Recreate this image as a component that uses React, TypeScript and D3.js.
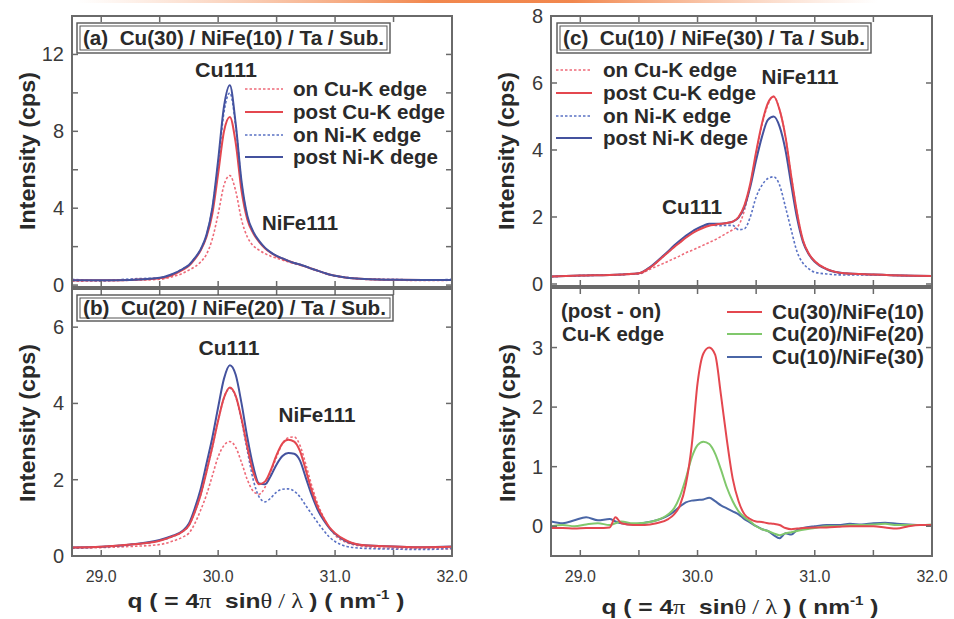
import React from "react";
import * as d3 from "d3";

// ---------- data ----------
const Q = [28.75, 29.0, 29.25, 29.5, 29.6, 29.7,
  29.75, 29.8, 29.85, 29.9, 29.95, 30.0, 30.05, 30.1, 30.15, 30.2, 30.25, 30.3, 30.35, 30.4, 30.45, 30.5, 30.55, 30.6, 30.65, 30.7, 30.75, 30.8, 30.85, 30.9, 30.95, 31.0,
  31.1, 31.25, 31.5, 31.75, 32.0];

// (a) Cu(30)/NiFe(10)
const A_onCu = [0.2, 0.22, 0.25, 0.3, 0.42, 0.62,
  0.78, 0.95, 1.2, 1.6, 2.4, 3.7, 5.2, 5.7, 4.9, 3.4, 2.5, 2.05, 1.82, 1.64, 1.5, 1.4, 1.3, 1.2, 1.12, 1.04, 0.95, 0.84, 0.74, 0.64, 0.55, 0.48,
  0.38, 0.3, 0.26, 0.24, 0.25];
const A_postCu = [0.25, 0.25, 0.27, 0.35, 0.5, 0.8,
  1.0, 1.35, 1.8, 2.5, 3.7, 5.8, 8.0, 8.75, 7.4, 4.9, 3.4, 2.7, 2.25, 1.92, 1.68, 1.5, 1.37, 1.25, 1.15, 1.06, 0.96, 0.85, 0.75, 0.65, 0.55, 0.48,
  0.38, 0.32, 0.28, 0.27, 0.27];
const A_onNi = [0.3, 0.22, 0.32, 0.38, 0.55, 0.85,
  1.05, 1.4, 1.85, 2.6, 4.0, 6.3, 9.0, 10.0, 8.3, 5.3, 3.55, 2.75, 2.28, 1.94, 1.7, 1.52, 1.39, 1.26, 1.15, 1.07, 0.97, 0.85, 0.75, 0.65, 0.55, 0.48,
  0.4, 0.32, 0.3, 0.25, 0.3];
const A_postNi = [0.25, 0.25, 0.27, 0.38, 0.55, 0.85,
  1.05, 1.4, 1.85, 2.6, 4.0, 6.5, 9.3, 10.4, 8.4, 5.4, 3.6, 2.78, 2.3, 1.95, 1.7, 1.52, 1.39, 1.26, 1.15, 1.07, 0.97, 0.85, 0.75, 0.65, 0.55, 0.48,
  0.38, 0.32, 0.28, 0.27, 0.27];

// (b) Cu(20)/NiFe(20)
const B_onCu = [0.2, 0.22, 0.25, 0.3, 0.38, 0.5,
  0.6, 0.85, 1.2, 1.6, 2.1, 2.6, 2.9, 3.0, 2.85, 2.45, 2.0, 1.7, 1.62, 1.8, 2.2, 2.6, 2.95, 3.1, 3.12, 2.9, 2.4, 1.85, 1.38, 1.02, 0.75, 0.55,
  0.35, 0.25, 0.2, 0.2, 0.18];
const B_postCu = [0.22, 0.24, 0.3, 0.4, 0.5, 0.65,
  0.8, 1.15, 1.6, 2.2, 2.85, 3.55, 4.15, 4.42, 4.2, 3.6, 2.85, 2.2, 1.88, 1.95, 2.25, 2.65, 2.95, 3.05, 3.0, 2.75, 2.25, 1.72, 1.3, 1.0, 0.76, 0.6,
  0.4, 0.28, 0.25, 0.23, 0.24];
const B_onNi = [0.22, 0.24, 0.3, 0.4, 0.5, 0.65,
  0.8, 1.15, 1.6, 2.2, 2.85, 3.55, 4.15, 4.4, 4.18, 3.55, 2.75, 2.0, 1.55, 1.42, 1.52, 1.68, 1.75, 1.76, 1.7, 1.55, 1.32, 1.1, 0.88, 0.68, 0.5, 0.38,
  0.25, 0.2, 0.18, 0.17, 0.2];
const B_postNi = [0.22, 0.24, 0.3, 0.42, 0.52, 0.67,
  0.85, 1.25, 1.75, 2.42, 3.1, 3.9, 4.65, 5.0, 4.75, 4.0, 3.1, 2.35, 1.9, 1.88, 2.1, 2.4, 2.62, 2.7, 2.68, 2.5, 2.05, 1.6, 1.22, 0.95, 0.74, 0.58,
  0.38, 0.28, 0.25, 0.23, 0.25];

// (c) Cu(10)/NiFe(30)
const C_onCu = [0.22, 0.25, 0.27, 0.3, 0.45, 0.6,
  0.68, 0.76, 0.84, 0.93, 1.0, 1.08, 1.16, 1.24, 1.32, 1.42, 1.52, 1.62, 1.75, 2.2, 2.95, 3.9, 4.75, 5.35, 5.6, 5.2, 4.4, 3.2, 2.1, 1.3, 0.9, 0.68,
  0.45, 0.32, 0.28, 0.25, 0.24];
const C_postCu = [0.22, 0.25, 0.27, 0.32, 0.5, 0.8,
  0.95, 1.1, 1.24, 1.38, 1.5, 1.6, 1.68, 1.74, 1.77, 1.8, 1.82, 1.86, 2.0, 2.35, 3.0, 3.95, 4.8, 5.4, 5.6, 5.2, 4.4, 3.2, 2.1, 1.3, 0.9, 0.68,
  0.45, 0.32, 0.28, 0.25, 0.24];
const C_onNi = [0.22, 0.25, 0.27, 0.32, 0.5, 0.8,
  0.95, 1.12, 1.28, 1.42, 1.55, 1.65, 1.72, 1.76, 1.75, 1.74, 1.75, 1.75, 1.62, 1.65, 2.0, 2.6, 2.95, 3.15, 3.2, 2.95, 2.3, 1.6, 0.95, 0.62, 0.45, 0.35,
  0.3, 0.27, 0.27, 0.25, 0.24];
const C_postNi = [0.22, 0.25, 0.27, 0.32, 0.52, 0.82,
  0.98, 1.15, 1.3, 1.44, 1.56, 1.66, 1.74, 1.8, 1.8, 1.8, 1.82, 1.86, 1.98, 2.3, 2.9, 3.7, 4.4, 4.9, 5.0, 4.7, 4.0, 2.95, 1.95, 1.25, 0.88, 0.66,
  0.44, 0.32, 0.28, 0.25, 0.24];

// (d) post - on, Cu-K edge
const QD = [28.75, 28.85, 28.95, 29.05, 29.15, 29.25, 29.3, 29.35, 29.45, 29.55, 29.65,
  29.75, 29.8, 29.85, 29.9, 29.95, 30.0, 30.05, 30.1, 30.15, 30.2, 30.25, 30.3, 30.35, 30.4, 30.45, 30.5, 30.55, 30.6, 30.65, 30.7, 30.75, 30.8, 30.85, 30.9,
  31.0, 31.1, 31.2, 31.3, 31.4, 31.5, 31.6, 31.7, 31.8, 31.9, 32.0];
const D_cu30 = [-0.03, -0.03, -0.04, -0.03, -0.03, -0.02, 0.15, 0.05, 0.02, 0.02, 0.05,
  0.12, 0.2, 0.35, 0.7, 1.35, 2.4, 2.9, 3.0, 2.88, 2.2, 1.45, 0.8, 0.42, 0.2, 0.12, 0.08, 0.07, 0.05, 0.04, 0.02, -0.03, -0.05, -0.04, -0.03,
  -0.02, -0.02, -0.01, 0.0, 0.0, 0.0, -0.02, -0.04, 0.0, 0.02, 0.02];
const D_cu20 = [0.0, 0.02, 0.0, 0.03, 0.05, 0.02, 0.05, 0.08, 0.05, 0.06, 0.1,
  0.2, 0.3, 0.5, 0.8, 1.15, 1.36, 1.42, 1.38, 1.22, 0.95, 0.65, 0.42, 0.25, 0.15, 0.08, 0.0, -0.05, -0.08, -0.12, -0.15, -0.12, -0.1, -0.08, -0.06,
  -0.03, 0.0, 0.0, 0.02, 0.02, 0.03, 0.04, 0.02, 0.02, 0.02, 0.03];
const D_cu10 = [0.08, 0.05, 0.1, 0.15, 0.1, 0.12, 0.08, 0.05, 0.03, 0.06, 0.1,
  0.18, 0.25, 0.33, 0.4, 0.43, 0.44, 0.45, 0.48, 0.42, 0.35, 0.3, 0.25, 0.2, 0.12, 0.06, 0.0, -0.05, -0.08, -0.15, -0.2, -0.12, -0.14, -0.06, -0.03,
  0.0, 0.02, 0.02, 0.04, 0.03, 0.05, 0.06, 0.04, 0.03, 0.02, 0.02];

const EDGE_LABELS = ["on Cu-K edge", "post Cu-K edge", "on Ni-K edge", "post Ni-K dege"];
const DIFF_LABELS = ["Cu(30)/NiFe(10)", "Cu(20)/NiFe(20)", "Cu(10)/NiFe(30)"];
const X_TICKS = [29.0, 30.0, 31.0, 32.0];
const X_MINOR = [29.5, 30.5, 31.5];

// ---------- style ----------
const RED = "#e4474f";
const RED_DOT = "#ee6a78";
const BLUE = "#44529e";
const BLUE_DOT = "#5a72c4";
const GREEN = "#80c86c";
const DBLUE = "#4a66a6";
const FRAME = "#6a6a6a";
const TXT = "#2a2a2a";
const FONT = "'Liberation Sans', Arial, sans-serif";

const STYLES = [
  { color: RED_DOT, dash: "2.5,2", w: 1.6 },
  { color: RED, dash: null, w: 2 },
  { color: BLUE_DOT, dash: "2.5,2", w: 1.6 },
  { color: BLUE, dash: null, w: 2 },
];

type PanelProps = {
  id: string;
  x0: number; x1: number; y0: number; y1: number;
  ydom: [number, number];
  yMajor: number[]; yMinor: number[];
  q: number[];
  series: { values: number[]; color: string; dash: string | null; w: number }[];
  showXLabels: boolean;
  order: number[];
};

function Panel(p: PanelProps) {
  const xs = d3.scaleLinear().domain([28.75, 32.0]).range([p.x0, p.x1]);
  const ys = d3.scaleLinear().domain(p.ydom).range([p.y1, p.y0]);
  const line = d3.line<number>()
    .x((_, i) => xs(p.q[i]))
    .y((v) => ys(v))
    .curve(d3.curveMonotoneX);
  const T = 6;
  return (
    <g>
      <clipPath id={"clip" + p.id}>
        <rect x={p.x0} y={p.y0} width={p.x1 - p.x0} height={p.y1 - p.y0} />
      </clipPath>
      <g clipPath={`url(#clip${p.id})`}>
        {p.order.map((k) => {
          const s = p.series[k];
          return (
            <path key={k} d={line(s.values) || ""} fill="none" stroke={s.color}
              strokeWidth={s.w} strokeDasharray={s.dash || undefined} strokeLinejoin="round" />
          );
        })}
      </g>
      {[...X_TICKS, ...X_MINOR].map((t) => (
        <g key={"xt" + t}>
          <line x1={xs(t)} x2={xs(t)} y1={p.y1} y2={p.y1 - T} stroke={FRAME} strokeWidth={1.5} />
          <line x1={xs(t)} x2={xs(t)} y1={p.y0} y2={p.y0 + T} stroke={FRAME} strokeWidth={1.5} />
        </g>
      ))}
      {[...p.yMajor, ...p.yMinor].map((t) => (
        <g key={"yt" + t}>
          <line x1={p.x0} x2={p.x0 + T} y1={ys(t)} y2={ys(t)} stroke={FRAME} strokeWidth={1.5} />
          <line x1={p.x1} x2={p.x1 - T} y1={ys(t)} y2={ys(t)} stroke={FRAME} strokeWidth={1.5} />
        </g>
      ))}
      <rect x={p.x0} y={p.y0} width={p.x1 - p.x0} height={p.y1 - p.y0} fill="none" stroke={FRAME} strokeWidth={2} />
      {p.yMajor.map((t) => (
        <text key={"yl" + t} x={p.x0 - 8} y={ys(t) + 7} textAnchor="end" fontSize={20}
          fill="#3a3a3a" fontFamily={FONT}>{String(t)}</text>
      ))}
      {p.showXLabels && X_TICKS.map((t) => (
        <text key={"xl" + t} x={xs(t)} y={582} textAnchor="middle" fontSize={17}
          fill="#3a3a3a" fontFamily={FONT} textLength={31} lengthAdjust="spacingAndGlyphs">{t.toFixed(1)}</text>
      ))}
    </g>
  );
}

function TitleBox({ x, y, w, h, text, tl }: { x: number; y: number; w: number; h: number; text: string; tl: number }) {
  return (
    <g>
      <rect x={x} y={y} width={w} height={h} fill="#fff" stroke="#555" strokeWidth={1.4} />
      <rect x={x + 3} y={y + 3} width={w - 6} height={h - 6} fill="none" stroke="#555" strokeWidth={1} />
      <text x={x + 6} y={y + h / 2 + 7} fontSize={20} fontWeight="bold" fill={TXT} fontFamily={FONT}
        textLength={tl} lengthAdjust="spacingAndGlyphs" style={{ whiteSpace: "pre" }}>{text}</text>
    </g>
  );
}

function Legend({ x1, x2, tx, ys, labels, styles, widths }: any) {
  return (
    <g>
      {labels.map((l: string, i: number) => (
        <g key={l}>
          <line x1={x1} x2={x2} y1={ys[i]} y2={ys[i]} stroke={styles[i].color}
            strokeWidth={styles[i].w} strokeDasharray={styles[i].dash || undefined} />
          <text x={tx} y={ys[i] + 7} fontSize={20} fontWeight="bold" fill={TXT} fontFamily={FONT}
            textLength={widths[i]} lengthAdjust="spacingAndGlyphs">{l}</text>
        </g>
      ))}
    </g>
  );
}

function Label({ x, y, text, w }: { x: number; y: number; text: string; w: number }) {
  return (
    <text x={x} y={y + 7} textAnchor="middle" fontSize={20} fontWeight="bold" fill={TXT} fontFamily={FONT}
      textLength={w} lengthAdjust="spacingAndGlyphs">{text}</text>
  );
}

function YTitle({ x, y }: { x: number; y: number }) {
  return (
    <text transform={`translate(${x},${y}) rotate(-90)`} textAnchor="middle" y={8} fontSize={22}
      fontWeight="bold" fill={TXT} fontFamily={FONT} textLength={158} lengthAdjust="spacingAndGlyphs">Intensity (cps)</text>
  );
}

function XTitle({ cx, y }: { cx: number; y: number }) {
  const SERIF = "'Liberation Serif', 'DejaVu Serif', serif";
  return (
    <text x={cx} y={y} textAnchor="middle" fontSize={21} fontWeight="bold" fill={TXT} fontFamily={FONT}
      style={{ whiteSpace: "pre" }} textLength={277} lengthAdjust="spacingAndGlyphs">
      <tspan>q ( = 4</tspan>
      <tspan fontWeight="normal" fontFamily={SERIF}>π</tspan>
      <tspan>  sin</tspan>
      <tspan fontWeight="normal" fontFamily={SERIF}>θ / λ </tspan>
      <tspan>) ( nm</tspan>
      <tspan dy={-9} fontSize={13}>-1</tspan>
      <tspan dy={9}> )</tspan>
    </text>
  );
}

export default function App() {
  const L = { x0: 72, x1: 452 };
  const R = { x0: 551, x1: 932 };
  const mk = (arrs: number[][]) => arrs.map((v, i) => ({ values: v, ...STYLES[i] }));
  const diffStyles = [
    { color: RED, dash: null, w: 2 },
    { color: GREEN, dash: null, w: 2 },
    { color: DBLUE, dash: null, w: 2 },
  ];
  return (
    <svg width={954} height={619} style={{ position: "absolute", left: 0, top: 0, background: "#fff" }}
      fontFamily={FONT}>
      <defs>
        <linearGradient id="glow" x1="0" x2="1" y1="0" y2="0">
          <stop offset="0.08" stopColor="#f6a070" stopOpacity={0} />
          <stop offset="0.45" stopColor="#f07a3a" stopOpacity={0.9} />
          <stop offset="0.6" stopColor="#f07a3a" stopOpacity={0.9} />
          <stop offset="0.92" stopColor="#f6a070" stopOpacity={0} />
        </linearGradient>
      </defs>
      <rect x={0} y={0} width={954} height={619} fill="#fff" />
      <rect x={0} y={0} width={954} height={3} fill="url(#glow)" />

      <Panel id="a" x0={L.x0} x1={L.x1} y0={16} y1={287} ydom={[-0.1, 14]} yMajor={[0, 4, 8, 12]} yMinor={[2, 6, 10]}
        q={Q} series={mk([A_onCu, A_postCu, A_onNi, A_postNi])} showXLabels={false} order={[0, 2, 1, 3]} />
      <Panel id="b" x0={L.x0} x1={L.x1} y0={289} y1={556} ydom={[0, 7]} yMajor={[0, 2, 4, 6]} yMinor={[]}
        q={Q} series={mk([B_onCu, B_postCu, B_onNi, B_postNi])} showXLabels={true} order={[0, 2, 3, 1]} />
      <Panel id="c" x0={R.x0} x1={R.x1} y0={16} y1={286} ydom={[-0.06, 8]} yMajor={[0, 2, 4, 6, 8]} yMinor={[]}
        q={Q} series={mk([C_onCu, C_postCu, C_onNi, C_postNi])} showXLabels={false} order={[0, 2, 3, 1]} />
      <Panel id="d" x0={R.x0} x1={R.x1} y0={288} y1={556} ydom={[-0.5, 4]} yMajor={[0, 1, 2, 3]} yMinor={[]}
        q={QD} series={[D_cu30, D_cu20, D_cu10].map((v, i) => ({ values: v, ...diffStyles[i] }))}
        showXLabels={true} order={[2, 1, 0]} />

      <TitleBox x={77} y={23} w={313} h={30} text="(a)  Cu(30) / NiFe(10) / Ta / Sub." tl={301} />
      <TitleBox x={77} y={295} w={316} h={26} text="(b)  Cu(20) / NiFe(20) / Ta / Sub." tl={303} />
      <TitleBox x={557} y={23} w={314} h={30} text="(c)  Cu(10) / NiFe(30) / Ta / Sub." tl={302} />

      <Legend x1={245} x2={283} tx={293} ys={[89, 112, 135, 157]} labels={EDGE_LABELS} styles={STYLES}
        widths={[134, 152, 128, 145]} />
      <Legend x1={556} x2={592} tx={603} ys={[70, 93, 116, 138]} labels={EDGE_LABELS} styles={STYLES}
        widths={[134, 153, 128, 145]} />
      <Legend x1={727} x2={762} tx={772} ys={[312, 334, 357]} labels={DIFF_LABELS} styles={diffStyles}
        widths={[152, 152, 152]} />

      <Label x={226} y={70} text="Cu111" w={62} />
      <Label x={300} y={223} text="NiFe111" w={76} />
      <Label x={229} y={348} text="Cu111" w={61} />
      <Label x={317} y={415} text="NiFe111" w={77} />
      <Label x={800} y={77} text="NiFe111" w={77} />
      <Label x={692} y={207} text="Cu111" w={60} />

      <text x={561} y={318} fontSize={20} fontWeight="bold" fill={TXT} fontFamily={FONT} textLength={100}
        lengthAdjust="spacingAndGlyphs">(post - on)</text>
      <text x={562} y={341} fontSize={20} fontWeight="bold" fill={TXT} fontFamily={FONT} textLength={102}
        lengthAdjust="spacingAndGlyphs">Cu-K edge</text>

      <YTitle x={27} y={151} />
      <YTitle x={27} y={423} />
      <YTitle x={506} y={151} />
      <YTitle x={507} y={423} />

      <XTitle cx={266} y={608} />
      <XTitle cx={740} y={614} />
    </svg>
  );
}
